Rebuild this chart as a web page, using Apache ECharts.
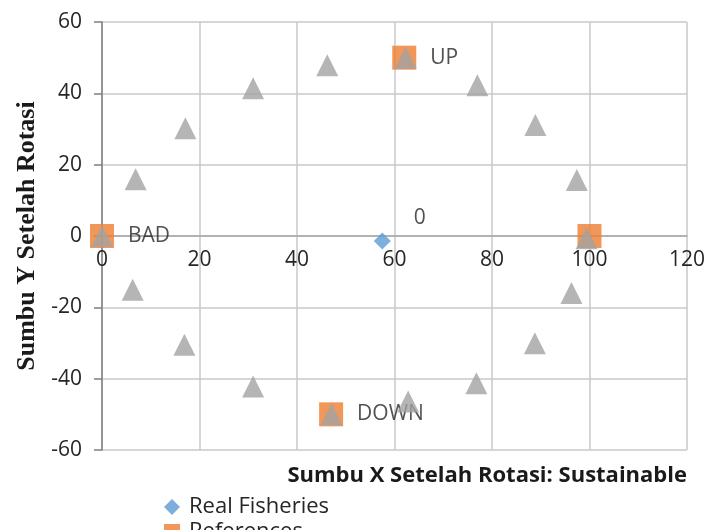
<!DOCTYPE html>
<html>
<head>
<meta charset="utf-8">
<script src="https://cdn.jsdelivr.net/npm/echarts@6/dist/echarts.min.js"></script>
<style>
  html, body { margin: 0; padding: 0; background: #ffffff; }
  #chart { width: 708px; height: 530px; }
</style>
</head>
<body>
<div id="chart"></div>
<script>
// Ordination of the fisheries point against its reference and anchor points
const realFisheries = [[57.5, -1.4]];
const realFisheriesLabels = ['0'];

const referencePoints = [[0, 0], [100, 0], [62, 50], [47, -50]];
const referenceLabels = ['BAD', '', 'UP', 'DOWN'];

const anchorX = [0, 6.9, 17.1, 31.0, 46.2, 62.3, 77.0, 88.9, 97.4, 99.4, 96.3, 88.8, 76.8, 62.8, 47.1, 31.0, 16.9, 6.3];
const anchorY = [0, 15.9, 30.2, 41.4, 47.9, 50.0, 42.3, 31.1, 15.7, -0.6, -16.0, -30.1, -41.3, -46.4, -50.0, -42.2, -30.5, -15.1];

const seriesNames = ['Real Fisheries', 'References', 'Anchors'];
const xTitle = 'Sumbu X Setelah Rotasi: Sustainable';
const yTitle = 'Sumbu Y Setelah Rotasi';

const FONT = '"Open Sans", sans-serif';
const TEXT = '#262626';

// plot box in pixels; the x axis sits on y = 0, halfway down the box
const GRID = { left: 102, right: 21, top: 22, bottom: 80 };
const plotHeight = 530 - GRID.top - GRID.bottom;

const chart = echarts.init(document.getElementById('chart'), null, { renderer: 'canvas' });

chart.setOption({
  animation: false,
  backgroundColor: '#ffffff',
  textStyle: { fontFamily: FONT },
  grid: GRID,
  title: {
    text: xTitle,
    right: 16,
    top: 460,
    textStyle: { fontFamily: FONT, fontSize: 22, fontWeight: 'bold', color: '#1a1a1a' }
  },
  legend: {
    orient: 'vertical',
    left: 159,
    top: 491,
    height: 90,
    itemWidth: 16,
    itemHeight: 16,
    itemGap: 3,
    data: seriesNames,
    textStyle: { fontFamily: FONT, fontSize: 22, color: TEXT, padding: [0, 0, 0, 4] }
  },
  xAxis: {
    type: 'value',
    min: 0,
    max: 120,
    interval: 20,
    offset: -plotHeight / 2,
    axisLine: { show: true, onZero: false, lineStyle: { color: '#a6a6a6', width: 1.5 } },
    axisTick: { show: false },
    axisLabel: { margin: 14, fontSize: 21, color: TEXT, fontFamily: FONT },
    splitLine: { show: true, lineStyle: { color: '#c8c8c8', width: 1.5 } }
  },
  yAxis: {
    type: 'value',
    min: -60,
    max: 60,
    interval: 20,
    name: yTitle,
    nameLocation: 'middle',
    nameGap: 62,
    nameTextStyle: { fontFamily: '"Liberation Serif", serif', fontSize: 26, fontWeight: 'bold', color: '#1a1a1a' },
    axisLine: { show: true, onZero: false, lineStyle: { color: '#7f7f7f', width: 1.5 } },
    axisTick: { show: true, length: 8, lineStyle: { color: '#7f7f7f', width: 1.5 } },
    axisLabel: { margin: 20, fontSize: 21, color: TEXT, fontFamily: FONT },
    splitLine: { show: true, lineStyle: { color: '#c8c8c8', width: 1.5 } }
  },
  series: [
    {
      name: seriesNames[1],
      type: 'scatter',
      symbol: 'rect',
      symbolSize: 24,
      z: 2,
      itemStyle: { color: '#ed7d31' },
      data: referencePoints.map((p, i) => ({ value: p, name: referenceLabels[i] })),
      label: {
        show: true,
        position: 'right',
        distance: 14,
        formatter: p => p.name,
        fontFamily: FONT,
        fontSize: 21,
        color: TEXT
      }
    },
    {
      name: seriesNames[2],
      type: 'scatter',
      symbol: 'triangle',
      symbolSize: 22,
      z: 3,
      itemStyle: { color: '#a2a2a2' },
      data: anchorX.map((x, i) => [x, anchorY[i]])
    },
    {
      name: seriesNames[0],
      type: 'scatter',
      symbol: 'diamond',
      symbolSize: 17,
      z: 4,
      itemStyle: { color: '#5b9bd5' },
      data: realFisheries.map((p, i) => ({ value: p, name: realFisheriesLabels[i] })),
      label: {
        show: true,
        position: 'right',
        distance: 5,
        offset: [18, -23],
        formatter: p => p.name,
        fontFamily: FONT,
        fontSize: 21,
        color: TEXT
      }
    }
  ]
});
</script>
</body>
</html>
